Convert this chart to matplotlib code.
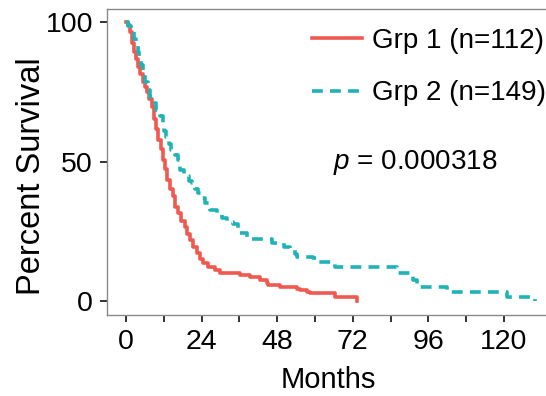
import numpy as np
import matplotlib
matplotlib.use('Agg')
import matplotlib.pyplot as plt

plt.rcParams['font.family'] = ['Liberation Sans', 'DejaVu Sans']
plt.rcParams['mathtext.fontset'] = 'custom'
plt.rcParams['mathtext.rm'] = 'Liberation Sans'
plt.rcParams['mathtext.it'] = 'Liberation Sans:italic'

# Kaplan-Meier steps (months, percent surviving)
grp1_time = [0, 0.7, 1.2, 1.8, 2.5, 3.2, 3.9, 4.6, 5.3, 6.0, 6.6, 7.4, 8.2, 8.8,
             9.5, 10.3, 11.0, 11.8, 12.3, 12.9, 13.9, 15.0, 15.6, 16.6, 17.6,
             18.7, 19.5, 20.3, 21.4, 22.4, 23.4, 24.5, 26.0, 28.3, 29.8, 36.2,
             39.4, 42.5, 44.7, 45.2, 48.9, 54.2, 55.2, 57.4, 58.4, 66.3, 73.2]
grp1_surv = [100, 98.9, 96.4, 92.4, 89.3, 86.6, 84.0, 81.3, 78.6, 76.8, 75.0,
             72.3, 69.6, 65.2, 61.6, 57.7, 54.4, 50.5, 47.3, 43.4, 40.2, 37.5,
             33.8, 31.4, 28.6, 26.6, 24.1, 21.9, 19.5, 17.1, 15.2, 13.5, 12.3,
             11.1, 10.1, 9.3, 8.7, 7.5, 6.3, 5.7, 5.1, 4.5, 3.9, 3.3, 2.8, 1.3, 0.0]

grp2_time = [0, 0.5, 1.5, 2.6, 3.2, 3.7, 4.2, 4.8, 5.3, 6.1, 6.9, 7.7, 8.5, 9.5,
             10.8, 11.6, 12.1, 12.7, 13.5, 14.3, 15.4, 16.4, 17.1, 18.5, 20.0,
             20.9, 22.0, 23.0, 24.0, 25.1, 26.7, 28.8, 30.4, 32.0, 34.1, 35.7,
             38.3, 46.5, 50.0, 52.1, 53.5, 54.2, 59.5, 60.6, 66.3, 86.0, 91.0,
             92.3, 101.8, 120.8, 129.8]
grp2_surv = [100, 98.7, 96.6, 94.0, 91.9, 89.3, 86.6, 84.5, 81.8, 78.5, 75.8,
             73.2, 71.1, 68.5, 66.4, 63.1, 61.1, 58.9, 56.4, 54.1, 52.4, 50.7,
             47.0, 45.0, 43.0, 42.2, 40.3, 38.6, 36.9, 35.0, 32.6, 31.2, 29.6,
             28.5, 27.8, 24.3, 22.1, 20.7, 19.3, 18.3, 17.0, 15.9, 15.3, 13.9,
             12.1, 10.1, 7.5, 5.1, 3.3, 1.5, 0.0]

labels = ['Grp 1 (n=112)', 'Grp 2 (n=149)']
p_text = '$\\it{p}$ = 0.000318'
xticks = np.arange(0, 121, 12)

W, H = 546, 396
fig = plt.figure(figsize=(W / 100, H / 100), dpi=100)
# axes box in pixels: left 107, right runs off the picture, top 9, bottom 315
ax = fig.add_axes([107 / W, (H - 315) / H, (550 - 107) / W, (315 - 9) / H])

red = '#F0594F'
teal = '#1FB3B6'
ax.plot(grp1_time, grp1_surv, drawstyle='steps-post', color=red, lw=2.6,
        label=labels[0])
ax.plot(grp2_time, grp2_surv, drawstyle='steps-post', color=teal, lw=2.6,
        dashes=(3.0, 2.0), label=labels[1])

ax.set_xlim((107 - 126) / 3.15, (550 - 126) / 3.15)
ax.set_ylim(-5, 104.7)
ax.set_xticks(xticks)
ax.set_xticklabels([str(t) if t % 24 == 0 else '' for t in xticks])
ax.set_yticks([0, 50, 100])

for s in ['top', 'left', 'bottom']:
    ax.spines[s].set_color('#8a8a8a')
    ax.spines[s].set_linewidth(1.0)
ax.spines['right'].set_visible(False)
ax.tick_params(axis='both', direction='out', length=5, width=1.3,
               color='#222222', labelsize=20.5, labelcolor='black', pad=5)

ax.set_xlabel('Months', fontsize=21, labelpad=8)
ax.set_ylabel('Percent Survival', fontsize=23.5)
ax.yaxis.set_label_coords((47 - 107) / (550 - 107), (315 - 176) / (315 - 9))

ax.legend(loc='upper left', bbox_to_anchor=(312 / W, 1 - 28 / H),
          bbox_transform=fig.transFigure, frameon=False, fontsize=20,
          handlelength=1.8, handletextpad=0.35, labelspacing=0.95,
          borderpad=0, borderaxespad=0)

ax.text(65.7, 49.8, p_text, fontsize=20, ha='left', va='center')

fig.savefig('out.png', dpi=100)
